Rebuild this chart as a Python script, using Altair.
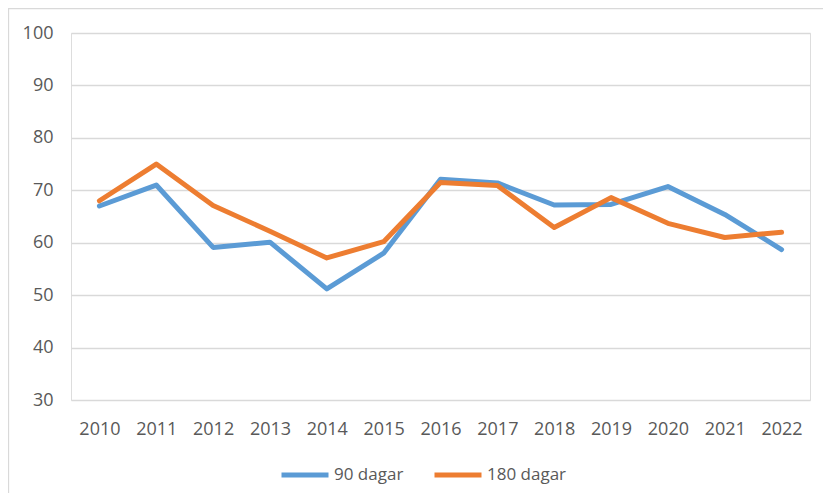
import altair as alt
import pandas as pd

years = [str(y) for y in range(2010, 2023)]
dagar90 = [67.0, 71.0, 59.1, 60.1, 51.2, 58.0, 72.1, 71.4, 67.2, 67.3, 70.7, 65.4, 58.7]
dagar180 = [68.0, 75.0, 67.1, 62.2, 57.1, 60.2, 71.5, 70.9, 62.9, 68.6, 63.7, 61.0, 62.0]
series = ["90 dagar", "180 dagar"]
colors = ["#5B9BD5", "#ED7D31"]

rows = []
for name, vals in zip(series, [dagar90, dagar180]):
    for y, v in zip(years, vals):
        rows.append({"year": y, "value": v, "series": name})
df = pd.DataFrame(rows)

FONT = "Open Sans"
TXT = "#595959"

lines = alt.Chart(df).mark_line(strokeWidth=5, strokeJoin="round", strokeCap="round").encode(
    x=alt.X("year:O", sort=years, title=None,
            scale=alt.Scale(type="point", padding=0.5),
            axis=alt.Axis(labelAngle=0, ticks=False, domain=False, labelPadding=20,
                          labelFontSize=18, labelColor=TXT, labelFont=FONT, grid=False)),
    y=alt.Y("value:Q", title=None,
            scale=alt.Scale(domain=[30, 100], nice=False, zero=False),
            axis=alt.Axis(values=list(range(30, 101, 10)), ticks=False, domain=False,
                          labelPadding=18, labelFontSize=18, labelColor=TXT, labelFont=FONT,
                          gridColor="#d9d9d9", gridWidth=1.3)),
    color=alt.Color("series:N", sort=series,
                    scale=alt.Scale(domain=series, range=colors),
                    legend=alt.Legend(title=None, orient="none", legendX=208, legendY=416,
                                      direction="horizontal", symbolType="stroke",
                                      symbolSize=2209, symbolStrokeWidth=5,
                                      labelFontSize=17, labelColor=TXT, labelFont=FONT,
                                      labelOffset=3, columnPadding=20)),
    order=alt.Order("year:O"),
)

border = alt.Chart(pd.DataFrame({"a": [0]})).mark_rect(
    fill=None, stroke="#d9d9d9", strokeWidth=1.3
).encode(
    x=alt.value(-62.5), x2=alt.value(800), y=alt.value(-24.3), y2=alt.value(520)
)

chart = alt.layer(border, lines).properties(
    width=739, height=367,
    padding={"left": 63, "top": 25, "right": 13, "bottom": 93},
    autosize=alt.AutoSizeParams(type="none"),
).configure_view(stroke=None).configure(background="white")

chart.save("out.html", embed_options={"renderer": "svg", "actions": False})
